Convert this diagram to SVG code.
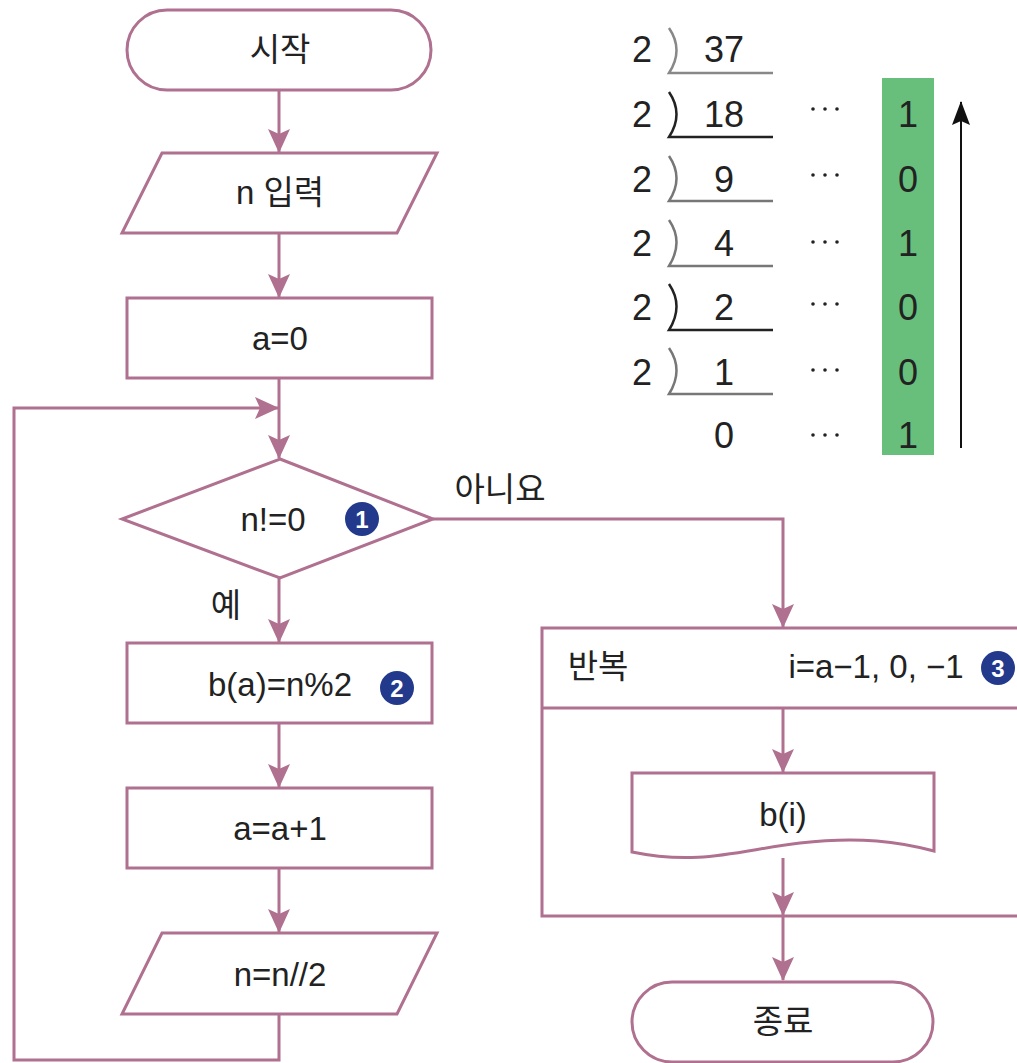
<svg xmlns="http://www.w3.org/2000/svg" width="1017" height="1063" viewBox="0 0 1017 1063">
<style>
.s{fill:#fff;stroke:#B0708F;stroke-width:3}
.c{fill:none;stroke:#B0708F;stroke-width:3}
.t{font-family:"Liberation Sans","Noto Sans CJK KR",sans-serif;font-size:33px;fill:#222;text-anchor:middle;dominant-baseline:central}
.d{font-family:"Liberation Sans","Noto Sans CJK KR",sans-serif;font-size:36px;fill:#222;text-anchor:middle;dominant-baseline:central}
.bc{fill:#22398C}
.bt{font-family:"Liberation Sans",sans-serif;font-size:24px;font-weight:bold;fill:#fff;text-anchor:middle;dominant-baseline:central}
.dv{fill:none;stroke-width:2.5}
.dot{fill:#222}
</style>
<defs>
<marker id="ah" markerUnits="userSpaceOnUse" markerWidth="24" markerHeight="24" viewBox="0 0 24 24" refX="23" refY="12" orient="auto">
<path d="M0,1 L24,12 L0,23 L5,12 z" fill="#B0708F"/>
</marker>
<marker id="bh" markerUnits="userSpaceOnUse" markerWidth="24" markerHeight="24" viewBox="0 0 24 24" refX="23" refY="12" orient="auto">
<path d="M0,3 L24,12 L0,21 L4,12 z" fill="#111"/>
</marker>
<g id="dots"><circle class="dot" cx="813" cy="0" r="1.8"/><circle class="dot" cx="825" cy="0" r="1.8"/><circle class="dot" cx="837" cy="0" r="1.8"/></g>
</defs>

<g id="connectors">
<line class="c" x1="279" y1="91" x2="279" y2="152" marker-end="url(#ah)"/>
<line class="c" x1="279" y1="233" x2="279" y2="297" marker-end="url(#ah)"/>
<line class="c" x1="279" y1="378" x2="279" y2="458" marker-end="url(#ah)"/>
<path class="c" d="M279,1014 L279,1060 L14,1060 L14,408 L278,408" marker-end="url(#ah)"/>
<line class="c" x1="279" y1="578" x2="279" y2="642" marker-end="url(#ah)"/>
<line class="c" x1="279" y1="723" x2="279" y2="787" marker-end="url(#ah)"/>
<line class="c" x1="279" y1="868" x2="279" y2="932" marker-end="url(#ah)"/>
<path class="c" d="M433,519 L783,519 L783,627" marker-end="url(#ah)"/>
<line class="c" x1="783" y1="708" x2="783" y2="772" marker-end="url(#ah)"/>
<line class="c" x1="783" y1="858" x2="783" y2="915" marker-end="url(#ah)"/>
<line class="c" x1="783" y1="916" x2="783" y2="980" marker-end="url(#ah)"/>
<text class="t" x="500" y="489">아니요</text>
<text class="t" x="226" y="605">예</text>
</g>

<g id="start">
<rect class="s" x="127" y="10" width="304" height="80" rx="40"/>
<text class="t" x="280" y="49">시작</text>
</g>
<g id="input">
<polygon class="s" points="162,153 437,153 397,233 122,233"/>
<text class="t" x="280" y="192">n 입력</text>
</g>
<g id="init">
<rect class="s" x="127" y="298" width="305" height="80"/>
<text class="t" x="280" y="338">a=0</text>
</g>
<g id="decision">
<polygon class="s" points="280,459 433,519 280,578 122,519"/>
<text class="t" x="273" y="519">n!=0</text>
<circle class="bc" cx="362" cy="519" r="17"/>
<text class="bt" x="362" y="519">1</text>
</g>
<g id="assign-b">
<rect class="s" x="127" y="643" width="305" height="80"/>
<text class="t" x="280" y="684">b(a)=n%2</text>
<circle class="bc" cx="397" cy="688" r="17"/>
<text class="bt" x="397" y="688">2</text>
</g>
<g id="inc-a">
<rect class="s" x="127" y="788" width="305" height="80"/>
<text class="t" x="280" y="828">a=a+1</text>
</g>
<g id="div-n">
<polygon class="s" points="162,933 437,933 397,1014 122,1014"/>
<text class="t" x="280" y="974">n=n//2</text>
</g>
<g id="loop">
<rect class="c" x="542" y="628" width="490" height="288"/>
<line class="c" x1="542" y1="708" x2="1032" y2="708"/>
<text class="t" x="598" y="666">반복</text>
<text class="t" x="876" y="666">i=a−1, 0, −1</text>
<circle class="bc" cx="998" cy="668" r="17"/>
<text class="bt" x="998" y="668">3</text>
</g>
<g id="output">
<path class="s" d="M632,773 L934,773 L934,851 C900,842 860,836 800,843 C740,850 700,866 632,852 Z"/>
<text class="t" x="783" y="814">b(i)</text>
</g>
<g id="end">
<rect class="s" x="632" y="982" width="301" height="80" rx="40"/>
<text class="t" x="783" y="1021">종료</text>
</g>

<g id="binary">
<rect x="882" y="78" width="52" height="377" fill="#68BF7B"/>
<line x1="961" y1="448" x2="961" y2="102" stroke="#111" stroke-width="2" marker-end="url(#bh)"/>
<g stroke="#888">
<path class="dv" d="M669,28 Q684,50 669,73 L773,73"/>
</g>
<g stroke="#222">
<path class="dv" d="M669,92 Q684,114 669,137 L773,137"/>
<path class="dv" d="M669,284 Q684,306 669,330 L773,330"/>
</g>
<g stroke="#777">
<path class="dv" d="M669,156 Q684,178 669,201 L773,201"/>
<path class="dv" d="M669,220 Q684,242 669,266 L773,266"/>
<path class="dv" d="M669,348 Q684,370 669,394 L773,394"/>
</g>
<text class="d" x="642" y="49">2</text>
<text class="d" x="642" y="114">2</text>
<text class="d" x="642" y="179">2</text>
<text class="d" x="642" y="243">2</text>
<text class="d" x="642" y="307">2</text>
<text class="d" x="642" y="372">2</text>
<text class="d" x="724" y="49">37</text>
<text class="d" x="724" y="114">18</text>
<text class="d" x="724" y="179">9</text>
<text class="d" x="724" y="243">4</text>
<text class="d" x="724" y="307">2</text>
<text class="d" x="724" y="372">1</text>
<text class="d" x="724" y="435">0</text>
<use href="#dots" y="109"/>
<use href="#dots" y="175"/>
<use href="#dots" y="242"/>
<use href="#dots" y="304"/>
<use href="#dots" y="370"/>
<use href="#dots" y="435"/>
<text class="d" x="908" y="114">1</text>
<text class="d" x="908" y="179">0</text>
<text class="d" x="908" y="243">1</text>
<text class="d" x="908" y="307">0</text>
<text class="d" x="908" y="372">0</text>
<text class="d" x="908" y="435">1</text>
</g>
</svg>
